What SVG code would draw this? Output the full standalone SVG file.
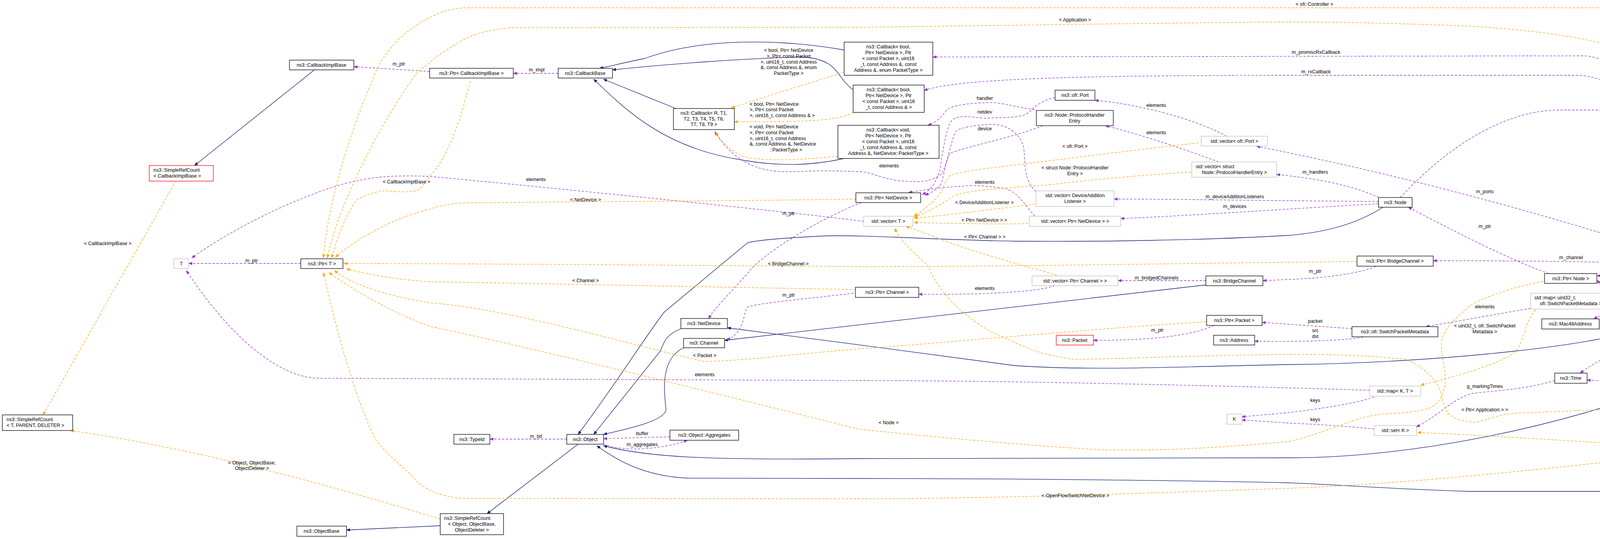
<svg xmlns="http://www.w3.org/2000/svg" width="5677" height="1381" viewBox="0 0 5677 1381">
<style>
text{font-family:"Liberation Sans",Arial,sans-serif;font-size:12.5px;fill:#000}
.n rect{fill:#fff;stroke:#000;stroke-width:1.3}
.g rect{fill:#fff;stroke:#bfbfbf;stroke-width:1.3}
.r rect{fill:#fff;stroke:#ff0000;stroke-width:1.3}
.f rect{fill:#bfbfbf;stroke:#000;stroke-width:1.3}
.m{text-anchor:middle}
#edges path{fill:none}
.inh{stroke:#191970;stroke-width:1.3;marker-end:url(#ai)}
.use{stroke:#9a32cd;stroke-width:1.3;stroke-dasharray:6,4;marker-end:url(#au)}
.tpl{stroke:#ffa500;stroke-width:1.3;stroke-dasharray:6,4;marker-end:url(#at)}
</style>
<defs>
<marker id="ai" markerWidth="10" markerHeight="8" refX="9" refY="4" orient="auto" markerUnits="userSpaceOnUse"><path d="M0,0 L10,4 L0,8 z" fill="#191970"/></marker>
<marker id="au" markerWidth="10" markerHeight="8" refX="9" refY="4" orient="auto" markerUnits="userSpaceOnUse"><path d="M0,0 L10,4 L0,8 z" fill="#9a32cd"/></marker>
<marker id="at" markerWidth="10" markerHeight="8" refX="9" refY="4" orient="auto" markerUnits="userSpaceOnUse"><path d="M0,0 L10,4 L0,8 z" fill="#ffa500"/></marker>
</defs>
<rect width="5677" height="1381" fill="#fff"/>
<g id="edges">
<path class="inh" d="M805,179 L498,424"/>
<path class="inh" d="M1730,278 L1545,203"/>
<path class="inh" d="M2161,128 C2000,100 1800,95 1650,150 C1600,160 1560,170 1535,175"/>
<path class="inh" d="M2184,230 C2140,200 2150,150 2050,146 C1900,150 1700,165 1568,179"/>
<path class="inh" d="M2161,406 C2100,420 2010,430 1900,410 C1700,380 1600,280 1520,203"/>
<path class="inh" d="M1480,1138 L1247,1316"/>
<path class="inh" d="M1127,1347 L887,1358"/>
<path class="inh" d="M1743,842 C1700,860 1700,880 1690,900 L1520,1113"/>
<path class="inh" d="M1750,891 C1690,920 1700,1000 1705,1050 C1700,1080 1600,1100 1545,1113"/>
<path class="inh" d="M3087,730 L1855,872"/>
<path class="inh" d="M4367,700 C4300,800 4250,820 4200,840 C4120,880 3700,930 3300,934 C3000,940 2800,950 2600,937 C2400,910 2100,870 1862,840"/>
<path class="inh" d="M3540,531 C3480,570 3400,595 3300,603 C3100,615 2800,620 2600,618 C2400,615 2200,600 2100,605 C2000,610 1940,615 1914,622 L1844,680 L1700,800 C1640,880 1600,950 1480,1113"/>
<path class="inh" d="M4341,959 C4000,1100 3600,1173 3300,1173 L2200,1175 C1800,1180 1650,1170 1545,1142"/>
<path class="inh" d="M5296,1189 C5200,1240 5100,1259 5018,1259 L3759,1259 C3500,1250 3400,1240 3300,1237 C3000,1230 2500,1226 2200,1226 L1760,1225 C1650,1220 1580,1180 1528,1142"/>
<path class="use" d="M1429,188 L1314,188"/>
<path class="use" d="M1100,183 L906,171"/>
<path class="use" d="M770,675 L483,675"/>
<path class="use" d="M2211,567 C2000,540 1300,470 1100,452 C1000,448 940,452 850,480 C700,530 560,610 491,661"/>
<path class="use" d="M3506,1000 C3200,990 2600,975 2200,975 L807,969 C700,960 580,850 477,693"/>
<path class="use" d="M3518,1017 C3450,1040 3350,1050 3300,1057 L3179,1068"/>
<path class="use" d="M3518,1099 C3450,1092 3350,1086 3300,1084 L3179,1076"/>
<path class="use" d="M2205,519 C2100,560 1950,650 1914,700 C1860,760 1830,790 1814,816"/>
<path class="use" d="M2195,750 C2100,762 1950,775 1915,786 C1900,800 1910,850 1861,871"/>
<path class="use" d="M2700,732 C2650,750 2500,755 2352,754"/>
<path class="use" d="M3087,719 L2862,719"/>
<path class="use" d="M3522,683 C3480,700 3400,712 3300,716 L3233,719"/>
<path class="use" d="M4272,677 C4100,670 3900,668 3669,668"/>
<path class="use" d="M3108,834 C3050,860 2950,872 2799,872"/>
<path class="use" d="M3461,842 L3231,826"/>
<path class="use" d="M3490,863 C3450,874 3300,876 3212,874"/>
<path class="use" d="M3918,790 L3650,837"/>
<path class="use" d="M4330,699 L4125,751"/>
<path class="use" d="M4352,699 C4280,740 4150,780 4080,817"/>
<path class="use" d="M4272,695 L4088,707"/>
<path class="use" d="M4322,946 C4200,940 4140,920 4135,880 C4130,830 4140,770 4088,718"/>
<path class="use" d="M4375,699 C4350,800 4320,880 4200,890 C4130,900 4080,930 4045,956"/>
<path class="use" d="M4330,959 C4250,975 4150,978 4063,974"/>
<path class="use" d="M3980,975 C3900,1000 3800,1003 3770,1008 C3720,1020 3690,1060 3626,1094"/>
<path class="use" d="M3965,701 C3850,660 3700,580 3605,531"/>
<path class="use" d="M4658,1104 L4500,861 C4450,780 4410,740 4398,702"/>
<path class="use" d="M4667,552 C4620,650 4580,740 4500,787 C4450,820 4420,880 4398,930"/>
<path class="use" d="M4888,539 L4763,539"/>
<path class="use" d="M3585,506 C3700,380 3850,282 3990,282 L4500,282 C4700,290 4850,400 4988,525"/>
<path class="use" d="M4470,674 C4490,600 4500,470 4500,435 C4600,360 4620,333 4665,333 L5485,333"/>
<path class="use" d="M5573,346 L5332,1164"/>
<path class="use" d="M5256,1177 L5118,1177"/>
<path class="use" d="M4898,1160 L4772,1145"/>
<path class="use" d="M4367,674 C4300,400 4200,143 4050,143 L2388,146"/>
<path class="use" d="M4375,674 C4300,420 4200,193 4035,193 L3300,193 C2800,193 2450,200 2366,232"/>
<path class="use" d="M4333,672 C4000,560 3600,450 3217,375"/>
<path class="use" d="M3530,506 C3450,470 3350,455 3268,447"/>
<path class="use" d="M3529,516 C3300,515 3000,510 2852,510"/>
<path class="use" d="M3529,522 C3300,535 3000,555 2869,560"/>
<path class="use" d="M3140,349 C3050,300 2900,265 2803,257"/>
<path class="use" d="M3120,415 C3000,370 2900,340 2830,322"/>
<path class="use" d="M2649,554 C2620,520 2600,485 2565,482 C2520,475 2480,474 2467,477 C2400,480 2360,488 2326,493"/>
<path class="use" d="M2701,250 C2650,260 2640,290 2621,295 C2580,305 2540,300 2523,303 C2480,300 2440,290 2430,320 C2415,360 2410,420 2405,440 C2395,470 2380,490 2361,498"/>
<path class="use" d="M2670,322 C2600,350 2460,380 2431,393 C2420,420 2418,440 2410,470 C2395,490 2380,495 2368,500"/>
<path class="use" d="M2649,281 C2600,275 2560,260 2523,263 C2460,265 2430,275 2424,281 C2410,300 2395,315 2375,321"/>
<path class="use" d="M2652,491 C2620,460 2625,420 2621,380 C2610,330 2560,315 2530,319 C2480,322 2450,330 2445,339 C2430,380 2425,420 2410,446 C2380,470 2340,466 2312,464 C2260,460 2230,440 2200,440 C2100,435 2050,440 2012,440 C1950,440 1880,420 1830,337"/>
<path class="use" d="M1715,1119 L1545,1124"/>
<path class="use" d="M1545,1138 C1600,1160 1700,1150 1760,1128"/>
<path class="use" d="M1451,1125 L1254,1125"/>
<path class="tpl" d="M2145,400 C2050,410 1950,415 1900,400 C1860,380 1845,360 1833,339"/>
<path class="tpl" d="M2184,288 C2150,310 2050,313 1880,312"/>
<path class="tpl" d="M2161,185 C2050,220 1950,250 1872,277"/>
<path class="tpl" d="M450,464 L110,1063"/>
<path class="tpl" d="M1127,1330 C800,1230 500,1150 180,1103"/>
<path class="tpl" d="M1204,208 C1180,300 1150,400 1100,452 C1080,480 1073,489 1060,490 C1010,495 990,485 968,491 C930,500 912,513 912,513 C880,560 860,620 849,661"/>
<path class="tpl" d="M2191,510 C1900,515 1300,518 1184,520 C1150,522 1120,528 1100,536 C1000,560 900,620 859,659"/>
<path class="tpl" d="M3474,670 C3000,675 2500,684 2200,683 C1800,680 1300,676 880,675"/>
<path class="tpl" d="M2200,742 C1800,735 1300,725 1100,722 C1000,715 930,700 887,689"/>
<path class="tpl" d="M3089,824 C2700,850 2400,880 2200,894 C2000,910 1900,925 1802,926 C1600,880 1300,790 1100,776 C1000,760 900,730 856,693"/>
<path class="tpl" d="M3950,721 C3850,740 3780,770 3759,787 C3720,820 3690,850 3690,881 C3690,920 3705,960 3698,992 C3690,1030 3670,1045 3644,1050 C3600,1060 3560,1058 3530,1062 C3500,1066 3470,1075 3453,1082 C3400,1100 3350,1120 3300,1131 C3100,1150 2950,1155 2831,1153 C2600,1140 2400,1120 2200,1100 C1800,1000 1400,900 1100,836 C1000,800 900,740 842,698"/>
<path class="tpl" d="M4585,1135 L4500,1138 C4000,1200 3600,1240 3300,1251 C2900,1265 2500,1278 2200,1278 L1184,1277 C1150,1275 1120,1265 1100,1256 C1070,1240 1060,1225 1052,1216 C1000,1170 980,1150 961,1126 C900,1000 850,800 828,698"/>
<path class="tpl" d="M4628,525 C4580,500 4530,490 4500,478 C4380,420 4290,350 4257,286 C4230,220 4200,170 4188,143 C4100,95 3900,75 3759,67 C3600,60 3400,56 3300,56 C2900,60 2500,66 2200,70 L1310,71 C1250,75 1200,90 1170,112 C1130,135 1110,150 1100,161 C1080,175 1070,185 1066,188 C950,350 860,550 838,661"/>
<path class="tpl" d="M5573,321 C5540,200 5500,140 5476,112 C5430,50 5380,20 5348,20 L1184,20 C1140,25 1120,35 1100,45 C1030,80 990,130 968,170 C890,350 840,520 828,661"/>
<path class="tpl" d="M3068,366 C2900,385 2700,410 2621,420 C2520,432 2450,440 2431,451 C2420,465 2415,480 2410,491 C2390,520 2360,540 2340,554"/>
<path class="tpl" d="M3049,441 C2900,450 2750,465 2691,473 C2600,480 2540,483 2516,487 C2470,492 2440,500 2431,509 C2400,530 2370,545 2340,556"/>
<path class="tpl" d="M2649,523 C2550,535 2420,552 2340,559"/>
<path class="tpl" d="M2631,573 C2540,575 2420,572 2340,570"/>
<path class="tpl" d="M2705,705 C2691,700 2500,650 2400,610 C2360,595 2335,585 2319,580"/>
<path class="tpl" d="M3931,794 C3900,830 3900,880 3880,900 C3830,940 3700,970 3637,987"/>
<path class="tpl" d="M4896,1174 L4500,1161 C4200,1140 3800,1115 3629,1108"/>
<path class="tpl" d="M4992,554 C4950,620 4910,650 4883,680 C4750,830 4600,940 4500,968 C4450,1000 4350,1030 4295,1037 C4150,1050 3950,1055 3874,1059 C3820,1065 3800,1080 3774,1082 C3740,1080 3720,1070 3706,1059 C3690,1030 3690,1000 3683,992 C3660,950 3620,930 3600,921 C3500,910 3400,908 3300,908 C3100,910 2900,918 2755,921 C2700,915 2670,905 2649,899 C2600,880 2560,860 2537,850 C2450,800 2400,740 2375,680 C2330,640 2300,610 2291,585"/>
</g>
<g id="labels">
<text x="1005" y="168">m_ptr</text>
<text x="980" y="470">&lt; CallbackImplBase &gt;</text>
<text x="215" y="628">&lt; CallbackImplBase &gt;</text>
<text x="628" y="672">m_ptr</text>
<text class="m" x="645" y="1190">&lt; Object, ObjectBase,</text>
<text class="m" x="645" y="1204">ObjectDeleter &gt;</text>
<text class="m" x="1374" y="183">m_impl</text>
<text class="m" x="1372" y="464">elements</text>
<text class="m" x="1499" y="516">&lt; NetDevice &gt;</text>
<text class="m" x="2019" y="551">m_ptr</text>
<text class="m" x="2018" y="680">&lt; BridgeChannel &gt;</text>
<text class="m" x="2019" y="133">&lt; bool, Ptr&lt; NetDevice</text>
<text class="m" x="2019" y="148">&gt;, Ptr&lt; const Packet</text>
<text class="m" x="2019" y="163">&gt;, uint16_t, const Address</text>
<text class="m" x="2019" y="177">&amp;, const Address &amp;, enum</text>
<text class="m" x="2019" y="192">PacketType &gt;</text>
<text x="1919" y="271">&lt; bool, Ptr&lt; NetDevice</text>
<text x="1919" y="285">&gt;, Ptr&lt; const Packet</text>
<text x="1919" y="300">&gt;, uint16_t, const Address &amp; &gt;</text>
<text x="1919" y="329">&lt; void, Ptr&lt; NetDevice</text>
<text x="1919" y="344">&gt;, Ptr&lt; const Packet</text>
<text x="1919" y="359">&gt;, uint16_t, const Address</text>
<text x="1919" y="373">&amp;, const Address &amp;, NetDevice</text>
<text class="m" x="2012" y="388">::PacketType &gt;</text>
<text class="m" x="2752" y="55">&lt; Application &gt;</text>
<text class="m" x="2521" y="256">handler</text>
<text class="m" x="2521" y="291">netdev</text>
<text class="m" x="2521" y="334">device</text>
<text class="m" x="2960" y="274">elements</text>
<text class="m" x="2960" y="344">elements</text>
<text class="m" x="2752" y="379">&lt; ofi::Port &gt;</text>
<text class="m" x="2752" y="434">&lt; struct Node::ProtocolHandler</text>
<text class="m" x="2752" y="449">Entry &gt;</text>
<text class="m" x="2276" y="429">elements</text>
<text class="m" x="2521" y="471">elements</text>
<text class="m" x="2520" y="523">&lt; DeviceAdditionListener &gt;</text>
<text class="m" x="3161" y="508">m_deviceAdditionListeners</text>
<text class="m" x="3161" y="533">m_devices</text>
<text class="m" x="2520" y="568">&lt; Ptr&lt; NetDevice &gt; &gt;</text>
<text class="m" x="2521" y="611">&lt; Ptr&lt; Channel &gt; &gt;</text>
<text class="m" x="1499" y="723">&lt; Channel &gt;</text>
<text class="m" x="2019" y="760">m_ptr</text>
<text class="m" x="1804" y="915">&lt; Packet &gt;</text>
<text class="m" x="1804" y="964">elements</text>
<text class="m" x="1372" y="1122">m_tid</text>
<text class="m" x="1644" y="1115">buffer</text>
<text class="m" x="1644" y="1143">m_aggregates</text>
<text class="m" x="2961" y="716">m_bridgedChannels</text>
<text class="m" x="2521" y="743">elements</text>
<text class="m" x="2963" y="850">m_ptr</text>
<text class="m" x="2275" y="1087">&lt; Node &gt;</text>
<text class="m" x="2753" y="1274">&lt; OpenFlowSwitchNetDevice &gt;</text>
<text class="m" x="3365" y="15">&lt; ofi::Controller &gt;</text>
<text class="m" x="3369" y="138">m_promiscRxCallback</text>
<text class="m" x="3369" y="188">m_rxCallback</text>
<text class="m" x="4384" y="279">m_applications</text>
<text class="m" x="3367" y="445">m_handlers</text>
<text class="m" x="3801" y="495">m_ports</text>
<text class="m" x="3801" y="584">m_ptr</text>
<text class="m" x="4022" y="664">m_channel</text>
<text class="m" x="4200" y="692">m_node</text>
<text class="m" x="3367" y="699">m_ptr</text>
<text class="m" x="4200" y="719">m_packetData</text>
<text class="m" x="3801" y="790">elements</text>
<text class="m" x="3367" y="827">packet</text>
<text class="m" x="3367" y="851">src</text>
<text class="m" x="3367" y="866">dst</text>
<text class="m" x="4200" y="761">m_address</text>
<text class="m" x="3801" y="839">&lt; uint32_t, ofi::SwitchPacket</text>
<text class="m" x="3801" y="854">Metadata &gt;</text>
<text class="m" x="4200" y="851">m_lastExecute</text>
<text class="m" x="4200" y="865">m_lookupDelay</text>
<text class="m" x="4200" y="910">m_node</text>
<text class="m" x="4200" y="955">m_stopTime</text>
<text class="m" x="4200" y="970">m_startTime</text>
<text class="m" x="3801" y="994">g_markingTimes</text>
<text class="m" x="3367" y="1030">keys</text>
<text class="m" x="3801" y="1054">&lt; Ptr&lt; Application &gt; &gt;</text>
<text class="m" x="3367" y="1079">keys</text>
<text class="m" x="4384" y="1130">&lt; Ptr&lt; OpenFlowSwitchNet</text>
<text class="m" x="4384" y="1144">Device &gt; &gt;</text>
<text class="m" x="5009" y="329">m_controller</text>
<text class="m" x="4832" y="534">elements</text>
<text class="m" x="4540" y="699">m_ptr</text>
<text class="m" x="5441" y="725">m_ptr</text>
<text class="m" x="4540" y="891">m_ptr</text>
<text class="m" x="4833" y="1143">keys</text>
<text class="m" x="5194" y="1172">m_switches</text>
</g>
<g id="n1" class="n"><rect x="741" y="154" width="165" height="25"/><text class="m" x="823" y="171">ns3::CallbackImplBase</text></g>
<g id="n2" class="r"><rect x="382" y="424" width="164" height="40"/><text x="393" y="440">ns3::SimpleRefCount</text><text x="393" y="455">&lt; CallbackImplBase &gt;</text></g>
<g id="n3" class="g"><rect x="445" y="663" width="38" height="25"/><text class="m" x="464" y="680">T</text></g>
<g id="n4" class="n"><rect x="770" y="663" width="108" height="25"/><text class="m" x="824" y="680">ns3::Ptr&lt; T &gt;</text></g>
<g id="n5" class="n"><rect x="6" y="1063" width="180" height="40"/><text x="17" y="1079">ns3::SimpleRefCount</text><text x="17" y="1094">&lt; T, PARENT, DELETER &gt;</text></g>
<g id="n6" class="n"><rect x="760" y="1348" width="127" height="26"/><text class="m" x="823" y="1365">ns3::ObjectBase</text></g>
<g id="n7" class="n"><rect x="1100" y="175" width="214" height="25"/><text class="m" x="1207" y="192">ns3::Ptr&lt; CallbackImplBase &gt;</text></g>
<g id="n8" class="n"><rect x="1429" y="175" width="139" height="25"/><text class="m" x="1498" y="192">ns3::CallbackBase</text></g>
<g id="n9" class="n"><rect x="1724" y="278" width="156" height="54"/><text class="m" x="1802" y="294">ns3::Callback&lt; R, T1,</text><text class="m" x="1802" y="309">T2, T3, T4, T5, T6,</text><text class="m" x="1802" y="323">T7, T8, T9 &gt;</text></g>
<g id="n10" class="n"><rect x="2161" y="108" width="227" height="85"/><text class="m" x="2274" y="124">ns3::Callback&lt; bool,</text><text class="m" x="2274" y="139">Ptr&lt; NetDevice &gt;, Ptr</text><text class="m" x="2274" y="154">&lt; const Packet &gt;, uint16</text><text class="m" x="2274" y="169">_t, const Address &amp;, const</text><text class="m" x="2274" y="184">Address &amp;, enum PacketType &gt;</text></g>
<g id="n11" class="n"><rect x="2184" y="218" width="182" height="70"/><text class="m" x="2275" y="234">ns3::Callback&lt; bool,</text><text class="m" x="2275" y="249">Ptr&lt; NetDevice &gt;, Ptr</text><text class="m" x="2275" y="264">&lt; const Packet &gt;, uint16</text><text class="m" x="2275" y="279">_t, const Address &amp; &gt;</text></g>
<g id="n12" class="n"><rect x="2145" y="321" width="259" height="85"/><text class="m" x="2274" y="337">ns3::Callback&lt; void,</text><text class="m" x="2274" y="352">Ptr&lt; NetDevice &gt;, Ptr</text><text class="m" x="2274" y="367">&lt; const Packet &gt;, uint16</text><text class="m" x="2274" y="382">_t, const Address &amp;, const</text><text class="m" x="2274" y="397">Address &amp;, NetDevice::PacketType &gt;</text></g>
<g id="n13" class="n"><rect x="2191" y="494" width="166" height="25"/><text class="m" x="2274" y="511">ns3::Ptr&lt; NetDevice &gt;</text></g>
<g id="n14" class="n"><rect x="2701" y="231" width="102" height="26"/><text class="m" x="2752" y="248">ns3::ofi::Port</text></g>
<g id="n15" class="n"><rect x="2653" y="283" width="197" height="39"/><text class="m" x="2751" y="299">ns3::Node::ProtocolHandler</text><text class="m" x="2751" y="314">Entry</text></g>
<g id="n16" class="g"><rect x="3075" y="349" width="170" height="25"/><text class="m" x="3160" y="366">std::vector&lt; ofi::Port &gt;</text></g>
<g id="n17" class="g"><rect x="3051" y="415" width="217" height="39"/><text x="3061" y="431">std::vector&lt; struct</text><text class="m" x="3160" y="446">Node::ProtocolHandlerEntry &gt;</text></g>
<g id="n18" class="g"><rect x="2652" y="489" width="200" height="40"/><text class="m" x="2752" y="505">std::vector&lt; DeviceAddition</text><text class="m" x="2752" y="520">Listener &gt;</text></g>
<g id="n19" class="g"><rect x="2635" y="554" width="234" height="26"/><text class="m" x="2752" y="571">std::vector&lt; Ptr&lt; NetDevice &gt; &gt;</text></g>
<g id="n20" class="g"><rect x="2211" y="554" width="126" height="26"/><text class="m" x="2274" y="571">std::vector&lt; T &gt;</text></g>
<g id="n21" class="n"><rect x="1743" y="816" width="119" height="26"/><text class="m" x="1802" y="833">ns3::NetDevice</text></g>
<g id="n22" class="n"><rect x="1750" y="867" width="105" height="24"/><text class="m" x="1802" y="883">ns3::Channel</text></g>
<g id="n23" class="n"><rect x="1451" y="1113" width="94" height="25"/><text class="m" x="1498" y="1130">ns3::Object</text></g>
<g id="n24" class="n"><rect x="1162" y="1113" width="92" height="25"/><text class="m" x="1208" y="1130">ns3::TypeId</text></g>
<g id="n25" class="n"><rect x="1715" y="1102" width="176" height="26"/><text class="m" x="1803" y="1119">ns3::Object::Aggregates</text></g>
<g id="n26" class="n"><rect x="1127" y="1316" width="162" height="54"/><text x="1137" y="1332">ns3::SimpleRefCount</text><text class="m" x="1208" y="1347">&lt; Object, ObjectBase,</text><text class="m" x="1208" y="1362">ObjectDeleter &gt;</text></g>
<g id="n27" class="g"><rect x="2642" y="707" width="220" height="25"/><text class="m" x="2752" y="724">std::vector&lt; Ptr&lt; Channel &gt; &gt;</text></g>
<g id="n28" class="n"><rect x="2190" y="736" width="162" height="26"/><text class="m" x="2271" y="753">ns3::Ptr&lt; Channel &gt;</text></g>
<g id="n29" class="n"><rect x="3087" y="707" width="146" height="25"/><text class="m" x="3160" y="724">ns3::BridgeChannel</text></g>
<g id="n30" class="n"><rect x="3089" y="808" width="142" height="26"/><text class="m" x="3160" y="825">ns3::Ptr&lt; Packet &gt;</text></g>
<g id="n31" class="r"><rect x="2704" y="859" width="95" height="25"/><text class="m" x="2751" y="876">ns3::Packet</text></g>
<g id="n32" class="n"><rect x="3107" y="859" width="105" height="25"/><text class="m" x="3159" y="876">ns3::Address</text></g>
<g id="n33" class="g"><rect x="3141" y="1061" width="38" height="26"/><text class="m" x="3160" y="1078">K</text></g>
<g id="n34" class="n"><rect x="3529" y="506" width="86" height="25"/><text class="m" x="3572" y="523">ns3::Node</text></g>
<g id="n35" class="n"><rect x="3474" y="656" width="195" height="26"/><text class="m" x="3571" y="673">ns3::Ptr&lt; BridgeChannel &gt;</text></g>
<g id="n36" class="f"><rect x="4272" y="674" width="220" height="25"/><text class="m" x="4382" y="691">ns3::OpenFlowSwitchNetDevice</text></g>
<g id="n37" class="n"><rect x="3954" y="701" width="134" height="25"/><text class="m" x="4021" y="718">ns3::Ptr&lt; Node &gt;</text></g>
<g id="n38" class="g"><rect x="3918" y="751" width="207" height="41"/><text x="3928" y="767">std::map&lt; uint32_t,</text><text class="m" x="4021" y="782">ofi::SwitchPacketMetadata &gt;</text></g>
<g id="n39" class="n"><rect x="3947" y="817" width="147" height="26"/><text class="m" x="4020" y="834">ns3::Mac48Address</text></g>
<g id="n40" class="n"><rect x="3461" y="837" width="220" height="26"/><text class="m" x="3571" y="854">ns3::ofi::SwitchPacketMetadata</text></g>
<g id="n41" class="r"><rect x="4322" y="933" width="122" height="26"/><text class="m" x="4383" y="950">ns3::Application</text></g>
<g id="n42" class="n"><rect x="3980" y="956" width="83" height="26"/><text class="m" x="4021" y="973">ns3::Time</text></g>
<g id="n43" class="g"><rect x="3506" y="989" width="131" height="26"/><text class="m" x="3571" y="1006">std::map&lt; K, T &gt;</text></g>
<g id="n44" class="g"><rect x="3518" y="1090" width="108" height="26"/><text class="m" x="3572" y="1107">std::set&lt; K &gt;</text></g>
<g id="n45" class="n"><rect x="5485" y="321" width="187" height="25"/><text class="m" x="5578" y="338">ns3::Ptr&lt; ofi::Controller &gt;</text></g>
<g id="n46" class="n"><rect x="4593" y="526" width="170" height="25"/><text class="m" x="4678" y="543">ns3::Ptr&lt; Application &gt;</text></g>
<g id="n47" class="g"><rect x="4888" y="526" width="239" height="25"/><text class="m" x="5007" y="543">std::vector&lt; Ptr&lt; Application &gt; &gt;</text></g>
<g id="n48" class="n"><rect x="4585" y="1111" width="187" height="40"/><text class="m" x="4678" y="1127">ns3::Ptr&lt; OpenFlowSwitch</text><text class="m" x="4678" y="1142">NetDevice &gt;</text></g>
<g id="n49" class="g"><rect x="4898" y="1156" width="220" height="41"/><text class="m" x="5008" y="1172">std::set&lt; Ptr&lt; OpenFlowSwitch</text><text class="m" x="5008" y="1187">NetDevice &gt; &gt;</text></g>
<g id="n50" class="n"><rect x="5256" y="1164" width="139" height="25"/><text class="m" x="5325" y="1181">ns3::ofi::Controller</text></g>
</svg>
